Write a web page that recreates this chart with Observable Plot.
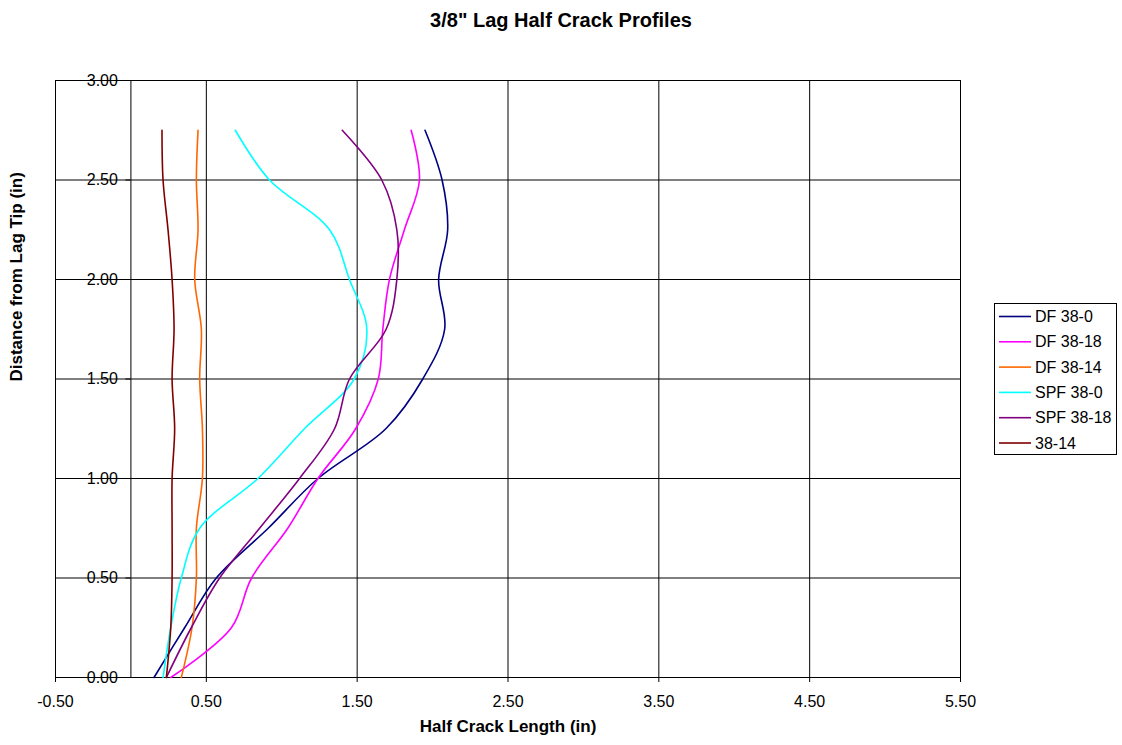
<!DOCTYPE html>
<html>
<head>
<meta charset="utf-8">
<script src="https://cdn.jsdelivr.net/npm/d3@7"></script>
<script src="https://cdn.jsdelivr.net/npm/@observablehq/plot@0.6"></script>
<style>
  html, body { margin: 0; padding: 0; background: #fff; }
  #wrap { position: relative; width: 1122px; height: 745px; font-family: "Liberation Sans", Arial, sans-serif; }
  #title { position: absolute; left: 0; top: 8px; width: 1122px; text-align: center; font-weight: bold; font-size: 20px; line-height: 24px; }
  #legend { position: absolute; left: 994px; top: 303px; }
</style>
</head>
<body>
<div id="wrap">
  <div id="title">3/8" Lag Half Crack Profiles</div>
  <div id="chart"></div>
  <div id="legend"></div>
</div>
<script>
// Distance from lag tip (in) at which each profile was measured
const distances = [0, 0.25, 0.5, 0.75, 1.0, 1.25, 1.5, 1.75, 2.0, 2.25, 2.5, 2.75];

// Half crack length (in) for each series, matching distances above
const df38_0   = [0.153, 0.356, 0.566, 0.91, 1.24, 1.69, 1.935, 2.08, 2.04, 2.10, 2.063, 1.95];
const df38_18  = [0.264, 0.666, 0.80, 1.04, 1.24, 1.49, 1.64, 1.67, 1.714, 1.813, 1.913, 1.858];
const df38_14  = [0.334, 0.405, 0.434, 0.434, 0.474, 0.474, 0.456, 0.467, 0.423, 0.445, 0.434, 0.445];
const spf38_0  = [0.213, 0.264, 0.334, 0.456, 0.842, 1.15, 1.48, 1.564, 1.449, 1.317, 0.919, 0.692];
const spf38_18 = [0.235, 0.40, 0.588, 0.853, 1.118, 1.35, 1.449, 1.692, 1.763, 1.763, 1.663, 1.401];
const s38_14   = [0.235, 0.264, 0.273, 0.273, 0.273, 0.29, 0.273, 0.286, 0.273, 0.246, 0.213, 0.206];

const seriesNames  = ["DF 38-0", "DF 38-18", "DF 38-14", "SPF 38-0", "SPF 38-18", "38-14"];
const seriesValues = [df38_0, df38_18, df38_14, spf38_0, spf38_18, s38_14];
const seriesColors = ["#000080", "#FF00FF", "#FF6600", "#00FFFF", "#800080", "#800000"];

// Axis ticks
const xTicks = [-0.5, 0.5, 1.5, 2.5, 3.5, 4.5, 5.5];
const yTicks = [0, 0.5, 1.0, 1.5, 2.0, 2.5, 3.0];
const xDomain = [-0.5, 5.5];
const yDomain = [0, 3];

const rows = [];
seriesNames.forEach((name, si) => {
  distances.forEach((d, i) => rows.push({series: name, x: seriesValues[si][i], y: d, order: i}));
});

const font = "'Liberation Sans', Arial, sans-serif";

const chart = Plot.plot({
  width: 1122,
  height: 745,
  marginTop: 80,
  marginBottom: 68,
  marginLeft: 55,
  marginRight: 162,
  style: {fontSize: "16px", fontFamily: font, background: "white", color: "black", overflow: "visible"},
  x: {domain: xDomain, ticks: xTicks, tickSize: 5, tickPadding: 13, tickFormat: d => d.toFixed(2), label: null},
  y: {domain: yDomain, axis: null},
  color: {domain: seriesNames, range: seriesColors},
  marks: [
    // gridlines
    Plot.ruleY(yTicks.filter(d => d > 0), {y: d => d, x1: xDomain[0], x2: xDomain[1], stroke: "#000", strokeWidth: 1}),
    Plot.ruleX(xTicks, {x: d => d, y1: yDomain[0], y2: yDomain[1], stroke: "#000", strokeWidth: 1}),
    // axes lines (y axis at x = 0, x axis at y = 0)
    Plot.ruleX([0], {x: d => d, y1: yDomain[0], y2: yDomain[1], stroke: "#000", strokeWidth: 1}),
    Plot.ruleY([0], {y: d => d, x1: xDomain[0], x2: xDomain[1], stroke: "#000", strokeWidth: 1}),
    // y ticks and labels at x = 0
    Plot.ruleY(yTicks, {y: d => d, x1: 0, x2: 0, insetLeft: -5, stroke: "#000"}),
    Plot.text(yTicks, {x: 0, y: d => d, text: d => d.toFixed(2), textAnchor: "end", dx: -13, fontSize: 16, fill: "#000"}),
    // series
    Plot.line(rows, {x: "x", y: "y", z: "series", stroke: "series", strokeWidth: 1.6, curve: "catmull-rom", sort: "order"}),
    // axis titles
    Plot.text(["Half Crack Length (in)"], {frameAnchor: "bottom", dy: 54, text: d => d, fontWeight: "bold", fontSize: 17, fill: "#000"}),
    Plot.text(["Distance from Lag Tip (in)"], {frameAnchor: "left", dx: -38.5, dy: 2.5, rotate: -90, text: d => d, fontWeight: "bold", fontSize: 17, fill: "#000"})
  ]
});
document.getElementById("chart").appendChild(chart);

// Legend
const lg = d3.select("#legend").append("svg")
  .attr("width", 124).attr("height", 153)
  .style("font-family", font).style("font-size", "16px").style("display", "block");
lg.append("rect").attr("x", 0.5).attr("y", 0.5).attr("width", 122).attr("height", 151)
  .attr("fill", "white").attr("stroke", "#000").attr("stroke-width", 1);
seriesNames.forEach((name, i) => {
  const cy = 13.5 + i * 25.3;
  lg.append("line").attr("x1", 5).attr("x2", 37).attr("y1", cy).attr("y2", cy)
    .attr("stroke", seriesColors[i]).attr("stroke-width", 1.6);
  lg.append("text").attr("x", 41).attr("y", cy).attr("dy", "0.35em").attr("fill", "#000").text(name);
});
</script>
</body>
</html>
